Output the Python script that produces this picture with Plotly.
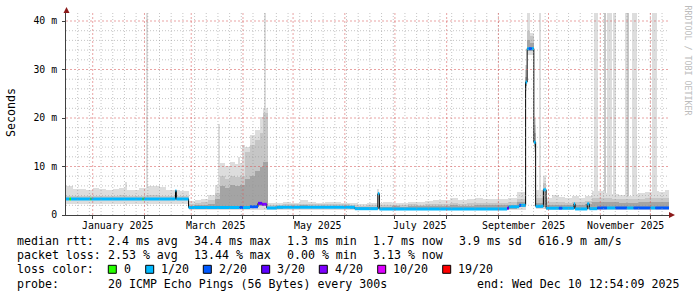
import plotly.graph_objects as go
import pandas as pd

# ---------------- data (ms) ----------------
x_start = "2024-12-16 00:00"
x_end = "2025-12-12 04:00"

smoke_start = [
    "2024-12-16", "2024-12-20", "2024-12-24", "2024-12-28", "2025-01-01", "2025-01-05",
    "2025-01-09", "2025-01-13", "2025-01-17", "2025-01-21", "2025-01-25", "2025-01-29",
    "2025-02-02", "2025-02-06", "2025-02-10", "2025-02-14", "2025-02-18", "2025-02-22",
    "2025-02-27 10:00", "2025-03-03", "2025-03-07", "2025-03-11", "2025-03-15", "2025-03-18",
    "2025-03-21", "2025-03-24", "2025-03-27", "2025-03-30", "2025-04-02", "2025-04-05",
    "2025-04-08", "2025-04-11", "2025-04-13",
    "2025-04-15 19:00", "2025-04-20", "2025-04-25", "2025-04-30", "2025-05-05", "2025-05-10",
    "2025-05-15", "2025-05-20", "2025-05-25", "2025-05-30", "2025-06-04", "2025-06-09",
    "2025-06-14", "2025-06-19", "2025-06-24", "2025-06-29", "2025-07-04", "2025-07-09",
    "2025-07-14", "2025-07-19", "2025-07-24", "2025-07-29", "2025-08-03", "2025-08-08",
    "2025-08-13", "2025-08-18", "2025-08-23", "2025-08-28", "2025-09-02", "2025-09-07",
    "2025-09-12",
    "2025-09-17 07:00", "2025-09-18 05:00", "2025-09-20 02:00", "2025-09-22 05:00",
    "2025-09-23 14:00", "2025-09-27 19:00",
    "2025-09-29 14:00", "2025-10-03", "2025-10-07", "2025-10-11", "2025-10-15", "2025-10-19",
    "2025-10-23", "2025-10-27", "2025-10-31", "2025-11-04", "2025-11-08", "2025-11-12",
    "2025-11-16", "2025-11-20", "2025-11-24", "2025-11-28", "2025-12-02", "2025-12-06",
    "2025-12-10",
]
smoke_min = [
    2.2, 2.2, 2.3, 2.2, 2.3, 2.2, 2.3, 2.2, 2.3, 2.2, 2.3, 2.2, 2.3, 2.3, 2.2, 2.2, 2.3, 2.2,
    1.0, 1.0, 1.0, 1.0, 1.0, 1.0, 1.0, 1.0, 1.0, 1.0, 1.0, 1.0, 1.0, 1.0, 1.0,
    1.0, 1.0, 1.1, 1.1, 1.1, 1.1, 1.1, 1.1, 1.1, 1.1, 1.0, 1.0, 1.0, 1.0, 1.0, 1.0,
    1.0, 1.0, 1.0, 1.0, 1.0, 1.0, 1.0, 1.0, 1.0, 1.0, 1.0, 1.0, 1.0, 1.0, 1.1,
    25.5, 33.0, 33.0, 13.0, 1.2, 1.3,
    1.1, 1.1, 1.1, 1.1, 1.1, 1.1, 1.1, 1.1, 1.1, 1.1, 1.1, 1.1, 1.1, 1.1, 1.1, 1.1, 1.1, 1.1, 1.1,
]
smoke_p25 = [
    3.0, 3.0, 3.1, 3.0, 3.0, 3.0, 3.1, 3.0, 3.0, 3.0, 3.0, 3.0, 3.1, 3.0, 3.0, 3.0, 3.0, 3.0,
    1.2, 1.2, 1.2, 1.2, 1.3, 1.4, 1.4, 1.5, 1.5, 1.6, 1.6, 1.7, 1.8, 1.9, 2.0,
    1.2, 1.4, 1.4, 1.4, 1.4, 1.4, 1.4, 1.4, 1.4, 1.4, 1.2, 1.2, 1.2, 1.2, 1.2, 1.2,
    1.2, 1.2, 1.2, 1.2, 1.2, 1.2, 1.2, 1.2, 1.2, 1.2, 1.2, 1.2, 1.2, 1.3, 1.6,
    26.5, 33.8, 33.8, 14.0, 1.4, 1.6,
    1.3, 1.3, 1.3, 1.3, 1.3, 1.3, 1.3, 1.3, 1.3, 1.3, 1.3, 1.3, 1.3, 1.3, 1.3, 1.3, 1.3, 1.3, 1.3,
]
smoke_p75 = [
    3.5, 3.5, 3.6, 3.5, 3.5, 3.6, 3.5, 3.5, 3.6, 3.5, 3.5, 3.6, 3.6, 3.6, 3.5, 3.5, 3.5, 3.5,
    1.9, 2.0, 2.1, 2.3, 3.2, 6.0, 5.5, 6.2, 6.0, 6.2, 7.5, 8.0, 9.0, 10.0, 11.0,
    1.7, 1.8, 1.9, 1.9, 2.0, 1.9, 1.9, 1.9, 1.9, 1.9, 1.7, 1.6, 1.7, 1.7, 1.7, 1.8,
    1.7, 1.8, 1.8, 1.8, 1.9, 1.9, 2.0, 1.9, 1.9, 2.0, 2.0, 2.0, 2.0, 2.1, 2.6,
    28.5, 36.0, 35.5, 17.0, 2.5, 5.4,
    2.0, 2.1, 2.0, 2.0, 2.1, 2.0, 2.2, 2.6, 2.7, 2.6, 2.6, 2.5, 2.4, 2.5, 2.6, 2.6, 2.7, 2.6, 2.7,
]
smoke_p90 = [
    4.0, 3.9, 4.0, 3.9, 4.0, 4.0, 3.9, 4.0, 4.1, 3.9, 3.9, 4.0, 4.1, 4.2, 4.0, 3.9, 3.9, 3.9,
    2.3, 2.4, 2.6, 3.0, 4.5, 8.0, 7.5, 8.0, 7.8, 8.0, 13.0, 14.5, 15.5, 17.0, 21.0,
    2.0, 2.1, 2.2, 2.2, 2.3, 2.2, 2.2, 2.2, 2.3, 2.2, 2.0, 1.9, 2.0, 2.0, 2.1, 2.1,
    2.0, 2.2, 2.1, 2.2, 2.3, 2.3, 2.5, 2.3, 2.4, 2.5, 2.5, 2.4, 2.5, 2.6, 3.4,
    30.0, 38.0, 37.0, 18.5, 3.5, 6.5,
    2.6, 2.7, 2.6, 2.5, 2.7, 2.6, 2.8, 3.5, 3.6, 3.5, 3.4, 3.3, 3.2, 3.3, 3.4, 3.5, 3.6, 3.5, 3.6,
]
smoke_max = [
    6.0, 5.3, 5.4, 5.2, 5.5, 5.3, 5.1, 5.4, 5.6, 5.2, 5.1, 5.6, 5.9, 6.0, 5.7, 5.2, 5.2, 5.0,
    2.9, 3.1, 3.4, 4.1, 6.2, 10.7, 10.2, 11.0, 10.5, 10.8, 14.0, 16.5, 17.5, 20.3, 22.0,
    2.4, 2.5, 2.6, 2.5, 3.0, 2.6, 2.5, 2.6, 2.7, 2.5, 2.4, 2.3, 2.4, 2.4, 2.6, 2.5,
    2.5, 2.7, 2.6, 2.8, 3.0, 3.1, 3.6, 3.1, 3.2, 3.6, 3.3, 3.2, 3.3, 3.5, 4.8,
    31.0, 45.0, 37.5, 20.0, 5.2, 8.0,
    3.6, 4.1, 3.8, 3.5, 3.9, 3.6, 3.9, 5.0, 5.0, 4.6, 4.4, 4.2, 3.9, 4.3, 4.5, 4.8, 4.9, 4.7, 5.1,
]

# short outliers (narrow smoke columns)
spike_start = ["2025-01-20 14:00", "2025-02-02 07:00", "2025-03-17 02:00", "2025-03-29 14:00",
               "2025-04-01 00:00", "2025-04-14 00:00",
               "2025-06-20 19:00", "2025-09-25 10:00", "2025-10-28 10:00", "2025-11-03 02:00",
               "2025-11-04 22:00", "2025-11-08 19:00", "2025-11-15 14:00", "2025-11-17 05:00",
               "2025-11-20 05:00", "2025-12-02 05:00"]
spike_end = ["2025-01-21 05:00", "2025-02-03 05:00", "2025-03-18 07:00", "2025-03-30 05:00",
             "2025-04-02 00:00", "2025-04-14 22:00",
             "2025-06-21 17:00", "2025-09-26 14:00", "2025-10-30 10:00", "2025-11-04 14:00",
             "2025-11-08 05:00", "2025-11-10 14:00", "2025-11-16 22:00", "2025-11-18 10:00",
             "2025-11-22 19:00", "2025-12-05 05:00"]
spike_max = [6.9, 45, 18.8, 12.0, 14.5, 45, 5.4, 45, 45, 45, 45, 45, 45, 45, 45, 45]
spike_p90 = [2.0, 2.0, 2.0, 2.0, 2.0, 2.0, 2.0, 2.0, 2.0, 45, 2.0, 2.0, 2.0, 45, 2.0, 2.0]
spike_min = [2.0, 2.0, 1.5, 1.5, 1.5, 2.0, 1.5, 1.5, 1.5, 1.5, 1.5, 1.5, 1.5, 1.5, 1.5, 1.5]

# median rtt with packet-loss bucket (index into loss_labels)
med_start = [
    "2024-12-16 00:00", "2024-12-18 00:00", "2024-12-19 00:00", "2024-12-30 14:00",
    "2024-12-31 05:00", "2025-01-30 19:00", "2025-01-31 12:00", "2025-02-19 14:00",
    "2025-02-20 02:00", "2025-02-27 10:00", "2025-03-30 00:00", "2025-04-01 00:00",
    "2025-04-05 05:00", "2025-04-10 00:00", "2025-04-12 12:00", "2025-04-15 06:00",
    "2025-04-21 10:00", "2025-06-07 00:00",
    "2025-06-20 19:00", "2025-06-21 17:00", "2025-09-06 05:00", "2025-09-07 05:00",
    "2025-09-13 10:00", "2025-09-14 14:00", "2025-09-17 07:00", "2025-09-18 05:00",
    "2025-09-19 05:00", "2025-09-21 00:00", "2025-09-22 05:00", "2025-09-23 07:00",
    "2025-09-27 22:00", "2025-09-29 14:00", "2025-10-07 05:00", "2025-10-09 05:00",
    "2025-10-16 05:00", "2025-10-16 22:00", "2025-10-24 05:00", "2025-10-25 10:00",
    "2025-10-30 05:00", "2025-11-05 00:00", "2025-11-10 00:00", "2025-11-17 00:00",
    "2025-11-21 00:00", "2025-12-01 00:00", "2025-12-04 00:00",
]
med_value = [
    3.3, 3.3, 3.3, 3.3, 3.3, 3.3, 3.3, 5.0, 3.3, 1.55, 1.55, 1.55, 1.7, 2.4, 2.2, 1.45,
    1.6, 1.3,
    4.4, 1.25, 1.4, 1.7, 2.0, 2.0, 27.4, 34.3, 34.3, 34.3, 15.0, 1.8, 5.2, 1.4, 1.4, 1.4,
    2.3, 1.25, 2.3, 1.3, 1.45, 1.45, 1.45, 1.45, 1.45, 1.45, 1.45,
]
med_loss = [
    1, 0, 1, 0, 1, 0, 1, 1, 1, 1, 2, 1, 2, 3, 4, 1,
    1, 1,
    1, 1, 3, 1, 2, 1, 1, 1, 2, 1, 1, 1, 1, 1, 2, 1,
    1, 1, 1, 1, 2, 1, 2, 1, 2, 1, 2,
]

loss_labels = ["0", "1/20", "2/20", "3/20", "4/20", "10/20", "19/20"]
loss_colors = ["#26ff00", "#00b8ff", "#0059ff", "#5e00ff", "#7e00ff", "#dd00ff", "#ff0000"]

month_ticks = ["2025-01-01", "2025-02-01", "2025-03-01", "2025-04-01", "2025-05-01", "2025-06-01",
               "2025-07-01", "2025-08-01", "2025-09-01", "2025-10-01", "2025-11-01", "2025-12-01"]
label_dates = ["2025-01-16", "2025-03-16", "2025-05-16", "2025-07-16", "2025-09-16", "2025-11-16"]
label_text = ["January 2025", "March 2025", "May 2025", "July 2025", "September 2025", "November 2025"]
y_ticks = [0, 10, 20, 30, 40]
y_text = ["0", "10 m", "20 m", "30 m", "40 m"]

legend_rows = [
    [("median rtt:", 16), ("2.4 ms avg", 107.3), ("34.4 ms max", 193.3), ("1.3 ms min", 286),
     ("1.7 ms now", 372.7), ("3.9 ms sd", 458), ("616.9 m am/s", 537.3)],
    [("packet loss:", 16), ("2.53 % avg", 107.3), ("13.44 % max", 193.3), ("0.00 % min", 286),
     ("3.13 % now", 372.7)],
]
loss_box_x = [108.3, 145.7, 203.3, 261.7, 319.3, 377.7, 442.7]

# ---------------- figure ----------------
W, H = 697, 297
ML, MR, MT, MB = 66, 28, 13, 82
PW, PH = W - ML - MR, H - MT - MB
MONO = "DejaVu Sans Mono"
Y_MAX = 41.65


def px(x):
    return (x - ML) / PW


def py(y):
    return (MT + PH - y) / PH


fig = go.Figure()


def add_band(starts, ends, lo, hi, color):
    s = pd.to_datetime(pd.Series(starts), format="mixed")
    e = pd.to_datetime(pd.Series(ends), format="mixed")
    mid = s + (e - s) / 2
    w = (e - s).dt.total_seconds() * 1000
    fig.add_trace(go.Bar(
        x=[m.strftime("%Y-%m-%d %H:%M:%S") for m in mid], y=[h - l for h, l in zip(hi, lo)],
        base=list(lo), width=list(w),
        marker=dict(color=color, line=dict(width=0)), showlegend=False, hoverinfo="skip"))


smoke_end = smoke_start[1:] + [x_end]
LIGHT, MID, DARK = "#dddddd", "#c6c6c6", "#a4a4a4"

add_band(spike_start, spike_end, spike_min, spike_max, LIGHT)
add_band(spike_start, spike_end, spike_min, spike_p90, MID)
add_band(smoke_start, smoke_end, smoke_min, smoke_max, LIGHT)
add_band(smoke_start, smoke_end, smoke_p25, smoke_p90, MID)
add_band(smoke_start, smoke_end, smoke_p25, smoke_p75, DARK)

# median black step line
fig.add_trace(go.Scatter(
    x=med_start + [x_end], y=med_value + [med_value[-1]], mode="lines",
    line=dict(shape="hv", color="#000000", width=1), showlegend=False, hoverinfo="skip"))

# loss-coloured median segments
med_end = med_start[1:] + [x_end]
for k, col in enumerate(loss_colors):
    xs, ys = [], []
    for s, e, v, l in zip(med_start, med_end, med_value, med_loss):
        if l == k:
            xs += [s, e, None]
            ys += [v, v, None]
    if xs:
        fig.add_trace(go.Scatter(x=xs, y=ys, mode="lines", line=dict(color=col, width=3),
                                 showlegend=False, hoverinfo="skip"))

# ---- grid drawn on top of the smoke (as rrdtool does) ----
MGRID = "rgba(215,90,90,0.55)"
GRID = "rgba(150,150,150,0.55)"
shapes = []
weeks = pd.date_range("2024-12-23", x_end, freq="7D")
for wk in weeks:
    shapes.append(dict(type="line", xref="x", yref="paper", x0=wk.strftime("%Y-%m-%d"),
                       x1=wk.strftime("%Y-%m-%d"), y0=0, y1=1, layer="above",
                       line=dict(color=GRID, width=1, dash="1px,2px")))
for yv in range(2, 42, 2):
    if yv % 10:
        shapes.append(dict(type="line", xref="paper", yref="y", x0=0, x1=1, y0=yv, y1=yv,
                           layer="above", line=dict(color=GRID, width=1, dash="1px,2px")))
for m in month_ticks:
    shapes.append(dict(type="line", xref="x", yref="paper", x0=m, x1=m, y0=0, y1=1, layer="above",
                       line=dict(color=MGRID, width=1, dash="2px,2px")))
for yv in y_ticks[1:]:
    shapes.append(dict(type="line", xref="paper", yref="y", x0=0, x1=1, y0=yv, y1=yv,
                       layer="above", line=dict(color=MGRID, width=1, dash="2px,2px")))

ann = []
# x labels
for d, t in zip(label_dates, label_text):
    ann.append(dict(x=d, xref="x", y=py(225), yref="paper", text=t, showarrow=False,
                    xanchor="center", yanchor="middle", font=dict(family=MONO, size=9.9, color="#000")))
# y title
ann.append(dict(x=px(11), y=py(113), xref="paper", yref="paper", text="Seconds", textangle=-90,
                xanchor="center", yanchor="middle",
                showarrow=False, font=dict(family=MONO, size=11.6, color="#000")))
# watermark
ann.append(dict(x=px(687.5), y=py(60), xref="paper", yref="paper", text="RRDTOOL / TOBI OETIKER",
                textangle=90, xanchor="center", yanchor="middle",
                showarrow=False, font=dict(family=MONO, size=8.3, color="#bcbcbc")))

rows_y = [241.3, 255.3, 269.3, 283.7]
for r, row in enumerate(legend_rows):
    for t, x in row:
        ann.append(dict(x=px(x - 1.5), y=py(rows_y[r]), xref="paper", yref="paper", text=t,
                        showarrow=False, xanchor="left", yanchor="middle",
                        font=dict(family=MONO, size=11.6, color="#000")))
ann.append(dict(x=px(16 - 1.5), y=py(rows_y[2]), xref="paper", yref="paper", text="loss color:",
                showarrow=False, xanchor="left", yanchor="middle", font=dict(family=MONO, size=11.6, color="#000")))
for bx, lab, col in zip(loss_box_x, loss_labels, loss_colors):
    shapes.append(dict(type="rect", xref="paper", yref="paper", x0=px(bx), x1=px(bx + 8),
                       y0=py(273.3), y1=py(265.3), fillcolor=col, line=dict(color="#000", width=1)))
    ann.append(dict(x=px(bx + 15 - 1.5), y=py(rows_y[2]), xref="paper", yref="paper", text=lab,
                    showarrow=False, xanchor="left", yanchor="middle",
                    font=dict(family=MONO, size=11.6, color="#000")))
ann.append(dict(x=px(16 - 1.5), y=py(rows_y[3]), xref="paper", yref="paper", text="probe:",
                showarrow=False, xanchor="left", yanchor="middle", font=dict(family=MONO, size=11.6, color="#000")))
ann.append(dict(x=px(107.3 - 1.5), y=py(rows_y[3]), xref="paper", yref="paper",
                text="20 ICMP Echo Pings (56 Bytes) every 300s",
                showarrow=False, xanchor="left", yanchor="middle", font=dict(family=MONO, size=11.6, color="#000")))
ann.append(dict(x=px(681), y=py(rows_y[3]), xref="paper", yref="paper",
                text="end: Wed Dec 10 12:54:09 2025",
                showarrow=False, xanchor="right", yanchor="middle", font=dict(family=MONO, size=11.6, color="#000")))

# arrows
ARROW = "#8b1a1a"
shapes.append(dict(type="path", xref="paper", yref="paper",
                   path=f"M {px(63.5)},{py(13)} L {px(69.5)},{py(13)} L {px(66.5)},{py(7)} Z",
                   fillcolor=ARROW, line=dict(color=ARROW, width=0)))
shapes.append(dict(type="path", xref="paper", yref="paper",
                   path=f"M {px(669)},{py(212)} L {px(669)},{py(218)} L {px(675)},{py(215)} Z",
                   fillcolor=ARROW, line=dict(color=ARROW, width=0)))

AXIS = "#404040"

fig.update_layout(
    width=W, height=H, margin=dict(l=ML, r=MR, t=MT, b=MB, pad=0),
    paper_bgcolor="#ffffff", plot_bgcolor="#ffffff", barmode="overlay", bargap=0,
    showlegend=False, font=dict(family=MONO, color="#000"),
    annotations=ann, shapes=shapes,
    xaxis=dict(type="date", range=[x_start, x_end], tickmode="array", tickvals=month_ticks,
               ticktext=[""] * len(month_ticks), showgrid=False,
               ticks="outside", ticklen=3, tickcolor=AXIS, showline=True,
               linecolor=AXIS, linewidth=1, zeroline=False, fixedrange=True, layer="above traces"),
    yaxis=dict(range=[0, Y_MAX], tickmode="array", tickvals=y_ticks, ticktext=y_text,
               showgrid=False, ticks="outside", ticklen=3, tickcolor=AXIS, showline=True,
               linecolor=AXIS, linewidth=1, zeroline=False, fixedrange=True, ticklabelstandoff=3,
               layer="above traces", tickfont=dict(family=MONO, size=9.8, color="#000")),
)

fig.write_html("out.html", config={"displayModeBar": False})
